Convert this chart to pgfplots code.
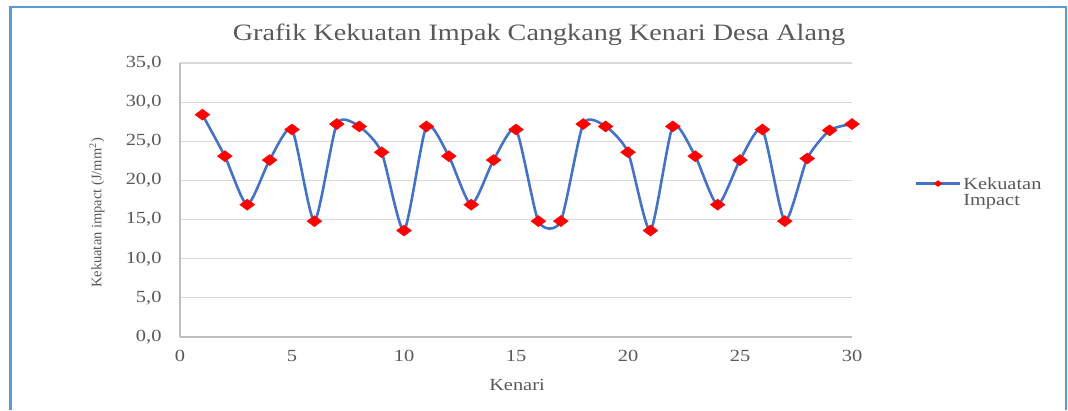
\documentclass[border=0pt]{standalone}
\usepackage{pgfplots}
\pgfplotsset{compat=1.18}
\usepackage{fontspec}
\setmainfont[FakeStretch=1.2]{Liberation Serif}
\newfontfamily\plainserif{Liberation Serif}
\definecolor{linecol}{HTML}{4472C4}
\definecolor{gridcol}{HTML}{D9D9D9}
\definecolor{axcol}{HTML}{BFBFBF}
\definecolor{txtcol}{HTML}{595959}
\definecolor{framecol}{HTML}{5B9BD5}
\begin{document}
\begin{tikzpicture}
\useasboundingbox (0,0) rectangle (1068pt,410pt);
\draw[framecol, line width=2.2pt] (10.5pt,0pt) -- (10.5pt,403pt) -- (1066pt,403pt) -- (1066pt,0pt);
\begin{axis}[
  at={(180pt,73pt)}, anchor=south west,
  scale only axis, width=672pt, height=274pt,
  xmin=0, xmax=30, ymin=0, ymax=35,
  xtick={0,5,...,30}, ytick={0,5,...,35},
  axis lines*=left, axis line style={axcol, line width=1.2pt, -},
  ymajorgrids, grid style={gridcol, line width=1.2pt},
  major tick length=0pt,
  /pgf/number format/assume math mode=true,
  yticklabel={\pgfmathprintnumber[fixed, fixed zerofill, precision=1, use comma]{\tick}},
  xticklabel={\pgfmathprintnumber[fixed, precision=0]{\tick}},
  ticklabel style={font=\fontsize{17}{18}\selectfont, text=txtcol},
  yticklabel style={xshift=-15pt},
  xticklabel style={yshift=-10pt},
  legend style={at={(1.093,0.56)}, anchor=west, draw=none, fill=none,
    font=\fontsize{17}{18}\selectfont, text=txtcol, inner sep=0pt},
  legend image code/.code={\draw[mark repeat=2, mark phase=2, #1, mark size=4pt] plot coordinates {(0pt,0pt) (22pt,0pt) (44pt,0pt)};},
  legend cell align=left,
  clip=false,
]
\addplot[linecol, line width=2.6pt, smooth, tension=0.38,
  mark=diamond*, mark size=7.5pt, mark options={rotate=90, fill=red, draw=red, line width=0.3pt, solid}]
coordinates {
(1,28.4) (2,23.1) (3,16.9) (4,22.6) (5,26.5) (6,14.8) (7,27.2) (8,26.9) (9,23.6) (10,13.6)
(11,26.9) (12,23.1) (13,16.9) (14,22.6) (15,26.5) (16,14.8) (17,14.8) (18,27.2) (19,26.9) (20,23.6)
(21,13.6) (22,26.9) (23,23.1) (24,16.9) (25,22.6) (26,26.5) (27,14.8) (28,22.8) (29,26.4) (30,27.2)
};
\addlegendentry{\begin{tabular}[t]{@{}l@{}}Kekuatan\\[-2pt]Impact\end{tabular}}
\end{axis}
\node[text=txtcol, font=\fontsize{23.5}{26}\selectfont] at (539pt,375pt) {Grafik Kekuatan Impak Cangkang Kenari Desa Alang};
\node[text=txtcol, font=\fontsize{17}{18}\selectfont] at (517pt,25pt) {Kenari};
\node[text=txtcol, rotate=90, font=\plainserif\fontsize{14.5}{16}\selectfont] at (97pt,197pt) {Kekuatan impact (J/mm\textsuperscript{2})};
\end{tikzpicture}
\end{document}
